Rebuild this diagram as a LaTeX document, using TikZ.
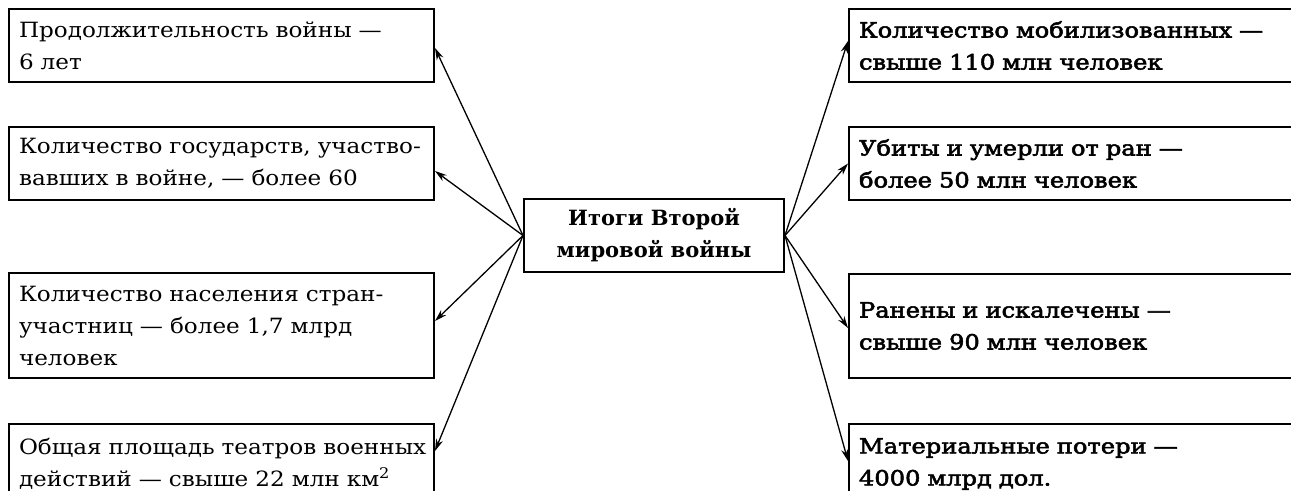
\documentclass[tikz,border=0pt]{standalone}
\usepackage{fontspec}
\setmainfont{DejaVu Serif}
\newfontfamily\boxfont[FakeStretch=1.1]{DejaVu Serif}
\newfontfamily\boldboxfont[FakeStretch=1.15, FakeBold=2.5]{DejaVu Serif}
\usetikzlibrary{arrows.meta, positioning}

\begin{document}
\begin{tikzpicture}[x=0.5pt, y=-0.5pt,
    box/.style={draw, line width=1pt, anchor=north west, align=left, inner xsep=5pt, inner ysep=0pt},
    leftbox/.style={box, text width=202.5pt, font=\boxfont\fontsize{10.5}{16}\selectfont},
    rightbox/.style={box, text width=220pt, font=\boldboxfont\fontsize{10.5}{16}\selectfont},
    arr/.style={-{Stealth[length=6pt, width=3.6pt]}, line width=0.65pt}]
\fill[white] (0,0) rectangle (1291,491);
\useasboundingbox (0,0) rectangle (1291,491);
\clip (0,0) rectangle (1291,491);

% central box
\node[draw, line width=1pt, minimum width=130pt, minimum height=36.5pt, align=center,
      font=\fontsize{10.5}{16}\selectfont\bfseries] (c) at (654,235.5) {Итоги Второй\\мировой войны};

% left column
\node[leftbox, minimum height=36.5pt] (l1) at (8,8) {Продолжительность войны —\\6 лет};
\node[leftbox, minimum height=36.5pt] (l2) at (8,126) {Количество государств, участво-\\вавших в войне, — более 60};
\node[leftbox, minimum height=52.5pt] (l3) at (8,272) {Количество населения стран-\\участниц — более 1,7 млрд\\человек};
\node[leftbox, minimum height=40pt] (l4) at (8,423) {\mbox{Общая площадь театров военных}\\действий — свыше 22 млн км\textsuperscript{2}};

% right column
\node[rightbox, minimum height=36.5pt] (r1) at (848,8) {Количество мобилизованных —\\свыше 110 млн человек};
\node[rightbox, minimum height=36.5pt] (r2) at (848,126) {Убиты и умерли от ран —\\более 50 млн человек};
\node[rightbox, minimum height=52pt] (r3) at (848,273) {Ранены и искалечены —\\свыше 90 млн человек};
\node[rightbox, minimum height=40pt] (r4) at (848,423) {Материальные потери —\\4000 млрд дол.};

% arrows
\foreach \n/\dy in {l1/-1.25, l2/-3.75, l3/2.25, l4/6.5}
    \draw[arr] (c.west) -- ([yshift=\dy pt]\n.east);
\foreach \n/\dy in {r1/2.25, r2/0, r3/-1, r4/1.5}
    \draw[arr] (c.east) -- ([yshift=\dy pt]\n.west);
\end{tikzpicture}
\end{document}
